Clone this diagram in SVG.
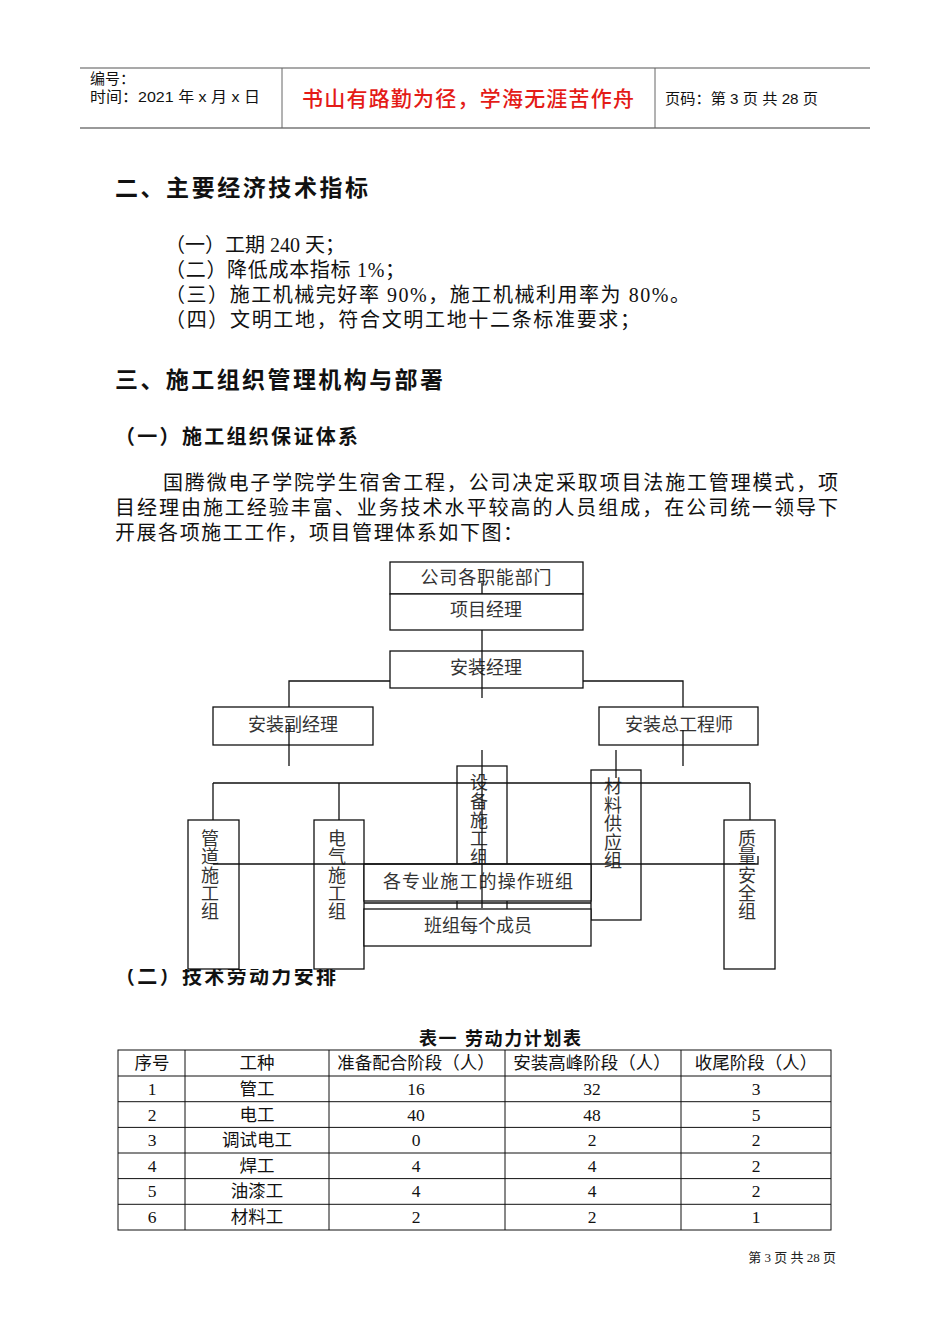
<svg xmlns="http://www.w3.org/2000/svg" width="950" height="1344" viewBox="0 0 950 1344">
<style>
.hd{font-family:"Liberation Sans","Noto Sans CJK SC",sans-serif;fill:#111}
.h1{font-family:"Liberation Sans","Noto Sans CJK SC",sans-serif;font-weight:bold;font-size:23px;fill:#111}
.h2{font-family:"Liberation Sans","Noto Sans CJK SC",sans-serif;font-weight:bold;font-size:20px;fill:#111}
.bd{font-family:"Liberation Serif","Noto Sans CJK SC",serif;font-size:20px;fill:#111}
.nb{fill:#fff;stroke:#111;stroke-width:1.3}
.nt{font-family:"Liberation Serif","Noto Sans CJK SC",serif;font-size:18px;fill:#333;text-anchor:middle}
.cn{fill:none;stroke:#111;stroke-width:1.3}
.tb{fill:none;stroke:#111;stroke-width:1}
.tt{font-family:"Liberation Serif","Noto Sans CJK SC",serif;font-size:17.5px;fill:#111;text-anchor:middle}
</style>
<defs>
<clipPath id="cutTop"><rect x="0" y="969" width="950" height="40"/></clipPath>
</defs>
<rect width="950" height="1344" fill="#fff"/>

<g id="header">
<line x1="80" y1="68" x2="870" y2="68" stroke="#555" stroke-width="1.2"/>
<line x1="80" y1="128" x2="870" y2="128" stroke="#999" stroke-width="2"/>
<line x1="282" y1="68" x2="282" y2="128" stroke="#666" stroke-width="1"/>
<line x1="655" y1="68" x2="655" y2="128" stroke="#666" stroke-width="1"/>
<text class="hd" x="90" y="84" font-size="15">编号：</text>
<text class="hd" x="90" y="102" font-size="15" textLength="170" lengthAdjust="spacingAndGlyphs">时间：2021 年 x 月 x 日</text>
<text x="468" y="106" font-family="'Liberation Sans','Noto Sans CJK SC',sans-serif" font-size="21" font-weight="500" fill="#e41b17" text-anchor="middle" textLength="332" lengthAdjust="spacing">书山有路勤为径，学海无涯苦作舟</text>
<text class="hd" x="665" y="104" font-size="15" textLength="153" lengthAdjust="spacingAndGlyphs">页码：第 3 页 共 28 页</text>
</g>

<g id="section2">
<text class="h1" x="115" y="196" textLength="253" lengthAdjust="spacing">二、主要经济技术指标</text>
<text class="bd" x="165" y="252" textLength="180" lengthAdjust="spacing">（一）工期 240 天；</text>
<text class="bd" x="165" y="277" textLength="240" lengthAdjust="spacing">（二）降低成本指标 1%；</text>
<text class="bd" x="165" y="302" textLength="525" lengthAdjust="spacing">（三）施工机械完好率 90%，施工机械利用率为 80%。</text>
<text class="bd" x="165" y="327" textLength="475" lengthAdjust="spacing">（四）文明工地，符合文明工地十二条标准要求；</text>
</g>

<g id="section3">
<text class="h1" x="115" y="388" textLength="328" lengthAdjust="spacing">三、施工组织管理机构与部署</text>
<text class="h2" x="115" y="444" textLength="243" lengthAdjust="spacing">（一）施工组织保证体系</text>
<text class="bd" x="163" y="490" font-size="21" textLength="675" lengthAdjust="spacing">国腾微电子学院学生宿舍工程，公司决定采取项目法施工管理模式，项</text>
<text class="bd" x="115" y="515" font-size="21" textLength="723" lengthAdjust="spacing">目经理由施工经验丰富、业务技术水平较高的人员组成，在公司统一领导下</text>
<text class="bd" x="115" y="540" font-size="21" textLength="408" lengthAdjust="spacing">开展各项施工工作，项目管理体系如下图：</text>
<text class="h2" x="115" y="984" clip-path="url(#cutTop)" textLength="221" lengthAdjust="spacing">（二）技术劳动力安排</text>
</g>

<g id="n-company">
<rect class="nb" x="390" y="562" width="193" height="32"/>
<text class="nt" x="486" y="584" textLength="131" lengthAdjust="spacing">公司各职能部门</text>
</g>
<g id="n-pm">
<rect class="nb" x="390" y="594" width="193" height="36"/>
<text class="nt" x="486" y="616">项目经理</text>
</g>
<g id="n-im">
<rect class="nb" x="390" y="651" width="193" height="37"/>
<text class="nt" x="486" y="674">安装经理</text>
</g>
<g id="n-vim">
<rect class="nb" x="213" y="707" width="160" height="38"/>
<text class="nt" x="293" y="731">安装副经理</text>
</g>
<g id="n-ce">
<rect class="nb" x="599" y="707" width="159" height="38"/>
<text class="nt" x="679" y="731">安装总工程师</text>
</g>
<g id="n-pipe">
<rect class="nb" x="188" y="820" width="51" height="149"/>
<text class="nt" x="210"><tspan x="210" y="845">管</tspan><tspan x="210" y="863">道</tspan><tspan x="210" y="882">施</tspan><tspan x="210" y="900">工</tspan><tspan x="210" y="918">组</tspan></text>
</g>
<g id="n-elec">
<rect class="nb" x="314" y="820" width="50" height="149"/>
<text class="nt" x="337"><tspan x="337" y="845">电</tspan><tspan x="337" y="863">气</tspan><tspan x="337" y="882">施</tspan><tspan x="337" y="900">工</tspan><tspan x="337" y="918">组</tspan></text>
</g>
<g id="n-equip">
<rect class="nb" x="457" y="766" width="50" height="154"/>
<text class="nt" x="479"><tspan x="479" y="789">设</tspan><tspan x="479" y="808">备</tspan><tspan x="479" y="827">施</tspan><tspan x="479" y="845">工</tspan><tspan x="479" y="864">组</tspan></text>
</g>
<g id="n-mat">
<rect class="nb" x="591" y="770" width="50" height="150"/>
<text class="nt" x="613"><tspan x="613" y="793">材</tspan><tspan x="613" y="812">料</tspan><tspan x="613" y="830">供</tspan><tspan x="613" y="849">应</tspan><tspan x="613" y="867">组</tspan></text>
</g>
<g id="n-qs">
<rect class="nb" x="724" y="820" width="51" height="149"/>
<text class="nt" x="747"><tspan x="747" y="845">质</tspan><tspan x="747" y="863">量</tspan><tspan x="747" y="882">安</tspan><tspan x="747" y="900">全</tspan><tspan x="747" y="918">组</tspan></text>
</g>
<g id="n-teams">
<rect class="nb" x="364" y="864" width="227" height="37"/>
<text class="nt" x="478" y="888" textLength="190" lengthAdjust="spacing">各专业施工的操作班组</text>
</g>
<g id="n-members">
<rect class="nb" x="364" y="909" width="227" height="37"/>
<text class="nt" x="478" y="932">班组每个成员</text>
</g>

<g id="connectors">
<path class="cn" d="M482,583 V594 M482,630 V698"/>
<path class="cn" d="M390,681 H289 V707 M583,681 H683 V707"/>
<path class="cn" d="M289,723 V766 M683,730 V766"/>
<path class="cn" d="M616,750 V778"/>
<path class="cn" d="M213,783 H750 M213,783 V820 M339,783 V820 M750,783 V820"/>
<path class="cn" d="M482,750 V908"/>
<path class="cn" d="M213,864 H758 V856"/>
<path class="cn" d="M364,903 H591"/>
</g>

<g id="table">
<text x="500" y="1045" font-family="'Liberation Sans','Noto Sans CJK SC',sans-serif" font-size="18" font-weight="bold" fill="#111" text-anchor="middle" textLength="162" lengthAdjust="spacing">表一  劳动力计划表</text>
<rect class="tb" x="118" y="1050" width="713" height="180"/>
<path class="tb" d="M118,1076 H831 M118,1101.7 H831 M118,1127.4 H831 M118,1153 H831 M118,1178.6 H831 M118,1204.3 H831 M185,1050 V1230 M329,1050 V1230 M505,1050 V1230 M681,1050 V1230"/>
<text class="tt" x="152" y="1069">序号</text>
<text class="tt" x="257" y="1069">工种</text>
<text class="tt" x="416" y="1069">准备配合阶段（人）</text>
<text class="tt" x="592" y="1069">安装高峰阶段（人）</text>
<text class="tt" x="756" y="1069">收尾阶段（人）</text>
<text class="tt" x="152" y="1095">1</text><text class="tt" x="257" y="1095">管工</text><text class="tt" x="416" y="1095">16</text><text class="tt" x="592" y="1095">32</text><text class="tt" x="756" y="1095">3</text>
<text class="tt" x="152" y="1121">2</text><text class="tt" x="257" y="1121">电工</text><text class="tt" x="416" y="1121">40</text><text class="tt" x="592" y="1121">48</text><text class="tt" x="756" y="1121">5</text>
<text class="tt" x="152" y="1146">3</text><text class="tt" x="257" y="1146">调试电工</text><text class="tt" x="416" y="1146">0</text><text class="tt" x="592" y="1146">2</text><text class="tt" x="756" y="1146">2</text>
<text class="tt" x="152" y="1172">4</text><text class="tt" x="257" y="1172">焊工</text><text class="tt" x="416" y="1172">4</text><text class="tt" x="592" y="1172">4</text><text class="tt" x="756" y="1172">2</text>
<text class="tt" x="152" y="1197">5</text><text class="tt" x="257" y="1197">油漆工</text><text class="tt" x="416" y="1197">4</text><text class="tt" x="592" y="1197">4</text><text class="tt" x="756" y="1197">2</text>
<text class="tt" x="152" y="1223">6</text><text class="tt" x="257" y="1223">材料工</text><text class="tt" x="416" y="1223">2</text><text class="tt" x="592" y="1223">2</text><text class="tt" x="756" y="1223">1</text>
</g>

<g id="footer">
<text x="836" y="1262" font-family="'Liberation Serif','Noto Sans CJK SC',serif" font-size="13" fill="#222" text-anchor="end">第 3 页 共 28 页</text>
</g>
</svg>
